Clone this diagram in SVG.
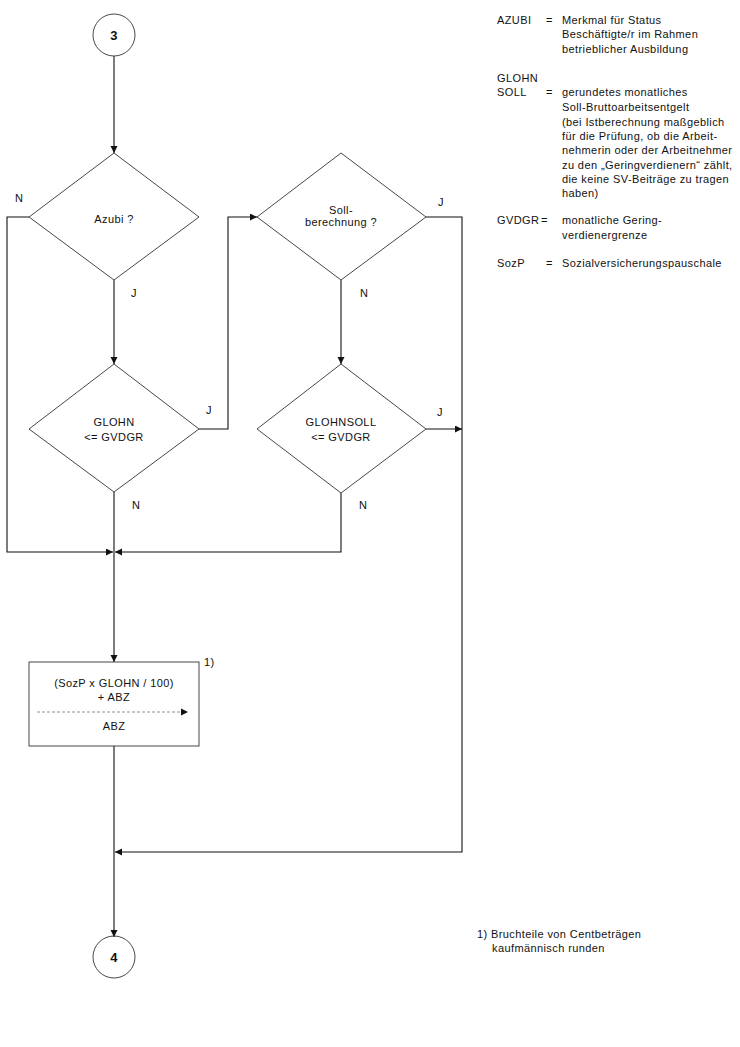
<svg xmlns="http://www.w3.org/2000/svg" width="740" height="1047" viewBox="0 0 740 1047">
<defs>
<marker id="ah" markerWidth="8" markerHeight="8" refX="7" refY="3.5" orient="auto" markerUnits="userSpaceOnUse">
<path d="M0,0 L7,3.5 L0,7 Z" fill="#111"/>
</marker>
<style>
text{font-family:"Liberation Sans",Arial,sans-serif;font-size:11px;fill:#111;letter-spacing:0.4px}
.c{text-anchor:middle}
.b{font-weight:bold;font-size:13px}
.shape{fill:none;stroke:#333;stroke-width:0.9}
.conn path,.conn line{fill:none;stroke:#111;stroke-width:1.1}
.dash{stroke:#777;stroke-width:0.8;stroke-dasharray:3,2;fill:none}
</style>
</defs>
<rect width="740" height="1047" fill="#fff"/>

<g class="conn">
<line x1="114" y1="56" x2="114" y2="153" marker-end="url(#ah)"/>
<path d="M29,217 H7 V552 H113" marker-end="url(#ah)"/>
<line x1="114" y1="280" x2="114" y2="364" marker-end="url(#ah)"/>
<path d="M199,429 H228 V217 H257" marker-end="url(#ah)"/>
<path d="M426,217 H462 V852 H115" marker-end="url(#ah)"/>
<line x1="341" y1="280" x2="341" y2="364" marker-end="url(#ah)"/>
<line x1="426" y1="429" x2="462" y2="429" marker-end="url(#ah)"/>
<path d="M341,493 V552 H115" marker-end="url(#ah)"/>
<line x1="114" y1="492" x2="114" y2="662" marker-end="url(#ah)"/>
<line x1="114" y1="746" x2="114" y2="937" marker-end="url(#ah)"/>
</g>

<g id="start3">
<circle cx="114" cy="35" r="21" class="shape"/>
<text x="114" y="40" class="c b">3</text>
</g>

<g id="d-azubi">
<polygon points="114,153 199,217 114,280 29,217" class="shape"/>
<text x="114" y="223" class="c">Azubi ?</text>
<text x="15" y="202">N</text>
<text x="131" y="297">J</text>
</g>

<g id="d-glohn">
<polygon points="114,364 199,429 114,492 29,429" class="shape"/>
<text x="114" y="426" class="c">GLOHN</text>
<text x="114" y="441" class="c">&lt;= GVDGR</text>
<text x="206" y="414">J</text>
<text x="132" y="509">N</text>
</g>

<g id="d-soll">
<polygon points="341,153 426,217 341,280 257,217" class="shape"/>
<text x="341" y="214" class="c">Soll-</text>
<text x="341" y="226" class="c">berechnung ?</text>
<text x="438" y="206">J</text>
<text x="360" y="297">N</text>
</g>

<g id="d-glohnsoll">
<polygon points="341,364 426,429 341,493 257,429" class="shape"/>
<text x="341" y="426" class="c">GLOHNSOLL</text>
<text x="341" y="441" class="c">&lt;= GVDGR</text>
<text x="437" y="416">J</text>
<text x="359" y="509">N</text>
</g>

<g id="box-abz">
<rect x="29" y="662" width="170" height="84" class="shape"/>
<text x="114" y="687" class="c">(SozP x GLOHN / 100)</text>
<text x="114" y="701" class="c">+ ABZ</text>
<line x1="37" y1="712" x2="181" y2="712" class="dash"/>
<path d="M181,708.5 L188,712 L181,715.5 Z" fill="#111"/>
<text x="114" y="730" class="c">ABZ</text>
<text x="204" y="666">1)</text>
</g>

<g id="end4">
<circle cx="114" cy="957" r="21" class="shape"/>
<text x="114" y="962" class="c b">4</text>
</g>

<g id="legend">
<text x="497" y="24">AZUBI</text><text x="546" y="24">=</text><text x="562" y="24">Merkmal für Status</text>
<text x="562" y="38">Beschäftigte/r im Rahmen</text>
<text x="562" y="53">betrieblicher Ausbildung</text>
<text x="497" y="82">GLOHN</text>
<text x="497" y="96">SOLL</text><text x="546" y="96">=</text><text x="562" y="96">gerundetes monatliches</text>
<text x="562" y="111">Soll-Bruttoarbeitsentgelt</text>
<text x="562" y="126">(bei Istberechnung maßgeblich</text>
<text x="562" y="140">für die Prüfung, ob die Arbeit-</text>
<text x="562" y="154">nehmerin oder der Arbeitnehmer</text>
<text x="562" y="169">zu den „Geringverdienern“ zählt,</text>
<text x="562" y="183">die keine SV-Beiträge zu tragen</text>
<text x="562" y="197">haben)</text>
<text x="497" y="224" letter-spacing="0">GVDGR</text><text x="541" y="224">=</text><text x="562" y="224">monatliche Gering-</text>
<text x="562" y="239">verdienergrenze</text>
<text x="497" y="267">SozP</text><text x="546" y="267">=</text><text x="562" y="267">Sozialversicherungspauschale</text>
</g>

<g id="footnote">
<text x="477" y="938">1) Bruchteile von Centbeträgen</text>
<text x="492" y="952">kaufmännisch runden</text>
</g>
</svg>
